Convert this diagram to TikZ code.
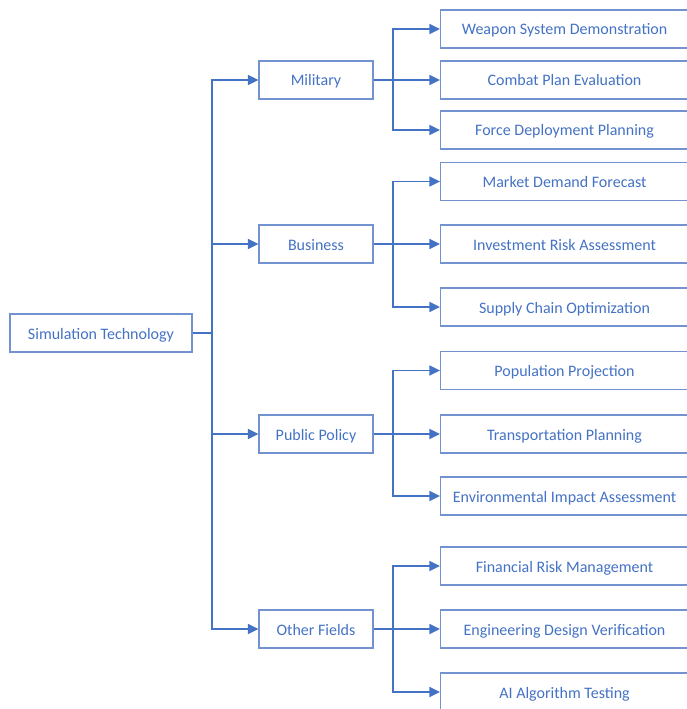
\documentclass[tikz,border=0pt]{standalone}
\usepackage{fontspec}
\setmainfont{Carlito}
\usetikzlibrary{arrows.meta}
\definecolor{lineblue}{HTML}{4472C4}
\definecolor{boxblue}{HTML}{7393D0}
\tikzset{
	box/.style={draw=boxblue, line width=0.8pt, text=lineblue, font=\fontsize{12pt}{14pt}\selectfont, inner sep=0pt, text height=10pt, text depth=1pt, minimum height=28.5pt},
	rootbox/.style={box, minimum width=136.5pt},
	fieldbox/.style={box, minimum width=85.5pt},
	leafbox/.style={box, minimum width=186pt, anchor=west},
	conn/.style={draw=lineblue, line width=1.3pt, -{Triangle[length=8pt,width=7.5pt]}},
	link/.style={draw=lineblue, line width=1.3pt}
}
\begin{document}
\begin{tikzpicture}[x=0.75pt, y=-0.75pt]
	\useasboundingbox (0,0) rectangle (686,709);
	\node[rootbox] at (101, 333) (sim) {Simulation Technology};
	\node[fieldbox] at (316, 80) (military) {Military};
	\node[fieldbox] at (316, 244) (business) {Business};
	\node[fieldbox] at (316, 434) (policy) {Public Policy};
	\node[fieldbox] at (316, 629) (other) {Other Fields};
	\node[leafbox] at (440, 29) (weapon) {Weapon System Demonstration};
	\node[leafbox] at (440, 80) (combat) {Combat Plan Evaluation};
	\node[leafbox] at (440, 130) (force) {Force Deployment Planning};
	\node[leafbox] at (440, 181.5) (market) {Market Demand Forecast};
	\node[leafbox] at (440, 244) (invest) {Investment Risk Assessment};
	\node[leafbox] at (440, 307) (supply) {Supply Chain Optimization};
	\node[leafbox] at (440, 370.5) (population) {Population Projection};
	\node[leafbox] at (440, 434) (transport) {Transportation Planning};
	\node[leafbox] at (440, 496) (environ) {Environmental Impact Assessment};
	\node[leafbox] at (440, 566) (financial) {Financial Risk Management};
	\node[leafbox] at (440, 629) (engineering) {Engineering Design Verification};
	\node[leafbox] at (440, 692) (aitest) {AI Algorithm Testing};
	
	\coordinate (simfork) at (212, 333);
	\coordinate (militaryfork) at (393, 80);
	\coordinate (businessfork) at (393, 244);
	\coordinate (policyfork) at (393, 434);
	\coordinate (otherfork) at (393, 629);
	
	\draw [link] (sim.east) -- (simfork);
	\draw [conn] (simfork) |- (military.west);
	\draw [conn] (simfork) |- (business.west);
	\draw [conn] (simfork) |- (policy.west);
	\draw [conn] (simfork) |- (other.west);
	
	\draw [link] (military.east) -- (militaryfork);
	\draw [conn] (militaryfork) |- (weapon.west);
	\draw [conn] (militaryfork) |- (combat.west);
	\draw [conn] (militaryfork) |- (force.west);
	\draw [link] (business.east) -- (businessfork);
	\draw [conn] (businessfork) |- (market.west);
	\draw [conn] (businessfork) |- (invest.west);
	\draw [conn] (businessfork) |- (supply.west);
	\draw [link] (policy.east) -- (policyfork);
	\draw [conn] (policyfork) |- (population.west);
	\draw [conn] (policyfork) |- (transport.west);
	\draw [conn] (policyfork) |- (environ.west);
	\draw [link] (other.east) -- (otherfork);
	\draw [conn] (otherfork) |- (financial.west);
	\draw [conn] (otherfork) |- (engineering.west);
	\draw [conn] (otherfork) |- (aitest.west);
	
\end{tikzpicture}
\end{document}
